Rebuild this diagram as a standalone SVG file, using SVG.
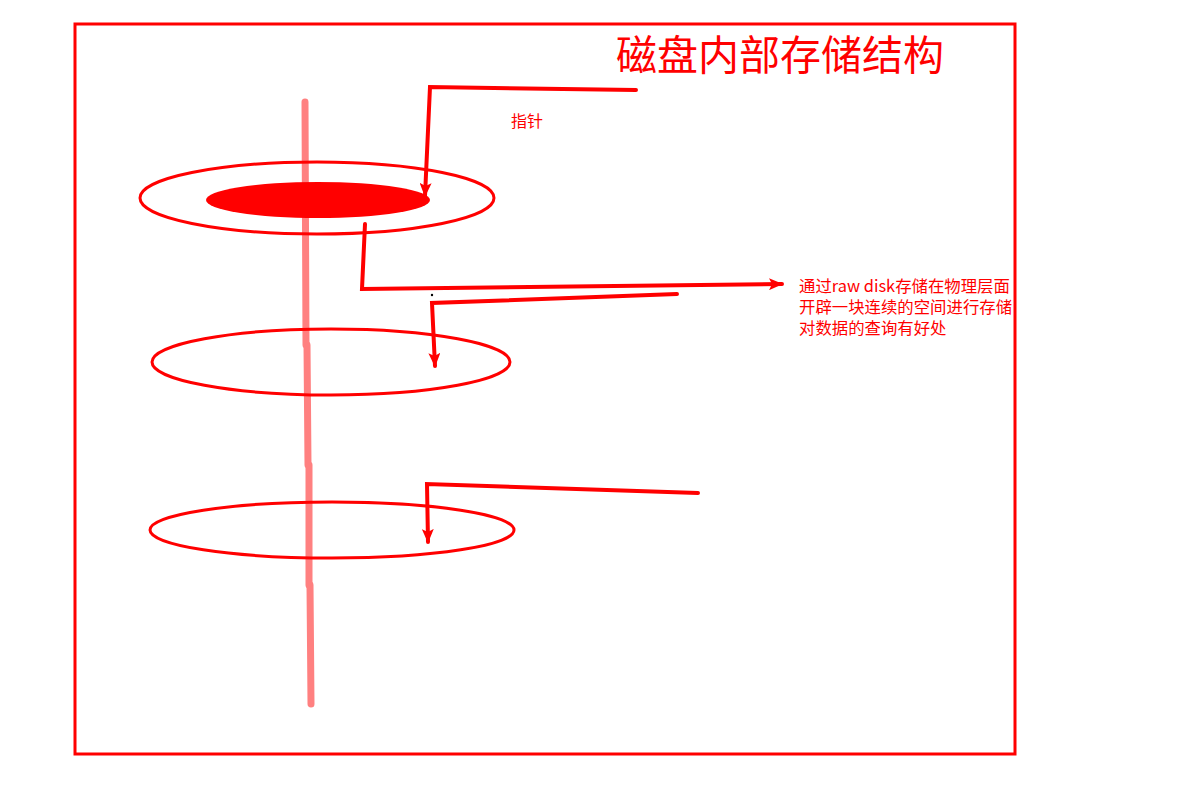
<svg xmlns="http://www.w3.org/2000/svg" width="1179" height="812" viewBox="0 0 1179 812">
<style>
.ln{fill:none;stroke:#ff0000;stroke-width:4;stroke-linejoin:miter;stroke-linecap:round}
.ring{fill:none;stroke:#ff0000;stroke-width:3}
.pole{fill:none;stroke:#ff8080;stroke-width:7;stroke-linecap:round}
.t{font-family:"Noto Sans CJK SC","Noto Sans",sans-serif;fill:#ff0000}
</style>
<defs>
<marker id="ah" viewBox="0 0 14 12" refX="13" refY="6" markerWidth="14" markerHeight="12" markerUnits="userSpaceOnUse" orient="auto">
<path d="M0,0 L14,6 L0,12 L3,6 Z" fill="#ff0000"/>
</marker>
</defs>
<rect width="1179" height="812" fill="#ffffff"/>
<rect x="75" y="24" width="940" height="730" fill="none" stroke="#ff0000" stroke-width="3"/>
<g id="title"><text class="t" x="616" y="70" font-size="41">磁盘内部存储结构</text></g>
<g id="pole">
<path class="pole" d="M305,102 L306,345"/>
<path class="pole" d="M307,345 L308,465"/>
<path class="pole" d="M309,465 L309,585"/>
<path class="pole" d="M310,585 L311,704"/>
</g>
<g id="disk1">
<ellipse class="ring" cx="317" cy="198" rx="177" ry="36"/>
<ellipse cx="318" cy="200" rx="112" ry="18" fill="#ff0000"/>
</g>
<g id="disk2"><ellipse class="ring" cx="331" cy="362" rx="179" ry="33"/></g>
<g id="disk3"><ellipse class="ring" cx="332" cy="530" rx="182" ry="28"/></g>
<g id="connectors">
<path class="ln" d="M636,90 L430,87 L425,196" marker-end="url(#ah)"/>
<path class="ln" d="M365,224 L362,289 L782,284" marker-end="url(#ah)"/>
<path class="ln" d="M677,294 L432,303 L435,366" marker-end="url(#ah)"/>
<path class="ln" d="M698,493 L427,484 L428,542" marker-end="url(#ah)"/>
<circle cx="432" cy="295" r="1.2" fill="#000000"/>
</g>
<g id="label-pointer"><text class="t" x="511" y="127" font-size="16">指针</text></g>
<g id="label-raw" class="t" font-size="16.4">
<text x="799" y="292">通过raw disk存储在物理层面</text>
<text x="799" y="313">开辟一块连续的空间进行存储</text>
<text x="799" y="334">对数据的查询有好处</text>
</g>
</svg>
